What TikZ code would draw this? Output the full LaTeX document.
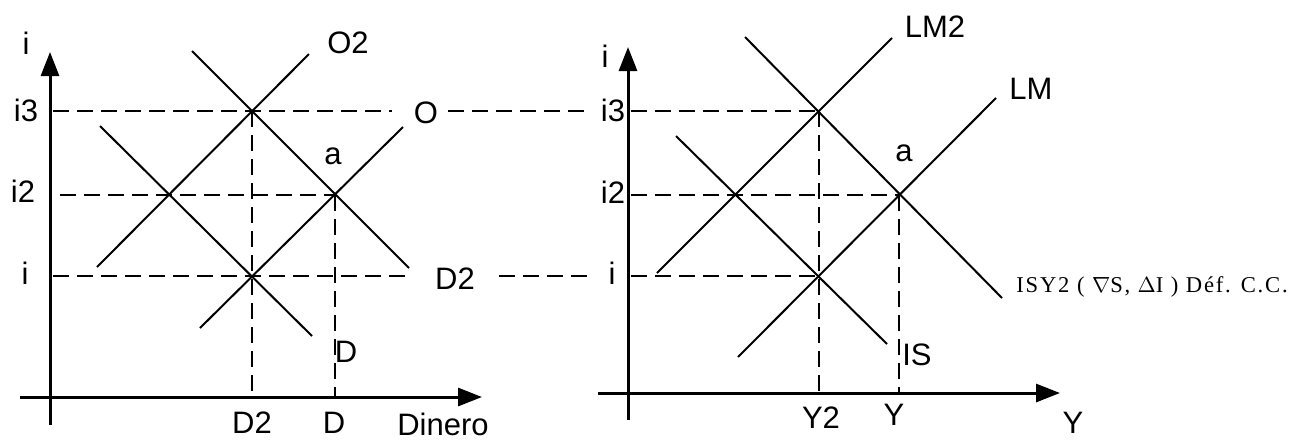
\documentclass[tikz,border=0pt]{standalone}
\usepackage{fontspec}
\setmainfont{Liberation Sans}
\newfontfamily\notefont{Liberation Serif}[LetterSpace=8]
\usetikzlibrary{arrows.meta,positioning}
\begin{document}
\begin{tikzpicture}[x=0.5pt, y=-0.5pt,
    axis/.style={line width=1.5pt, -{Triangle[length=12pt, width=9pt]}},
    curve/.style={line width=1pt},
    guide/.style={line width=0.7pt, dash pattern=on 8pt off 4pt},
    lbl/.style={inner sep=0pt, font=\fontsize{15.5}{18}\selectfont},
    note/.style={inner sep=0pt, anchor=west, font=\notefont\fontsize{11.3}{13}\selectfont}
  ]
    \useasboundingbox (0,0) rectangle (1304,441);
    % money market
    \coordinate (mx0) at (20,397);  \coordinate (mx1) at (482,397);
    \coordinate (my0) at (50,425);  \coordinate (my1) at (50,52);
    \draw[axis] (mx0) -- (mx1);
    \draw[axis] (my0) -- (my1);
    \coordinate (m3) at (252,111);  \coordinate (mb) at (169,195);
    \coordinate (ma) at (335,195);  \coordinate (m1) at (252,276);
    \coordinate (o2s) at (97,267);  \coordinate (o2e) at (309,54);
    \coordinate (d2s) at (192,51);  \coordinate (d2e) at (409,268);
    \coordinate (ds) at (100,126);  \coordinate (de) at (312,336);
    \coordinate (os) at (200,328);  \coordinate (oe) at (403,127);
    \draw[curve] (o2s) -- (o2e);
    \draw[curve] (d2s) -- (d2e);
    \draw[curve] (ds) -- (de);
    \draw[curve] (os) -- (oe);
    \node[lbl] (iL) at (26,43) {i};
    \node[lbl] (i3L) at (26,110) {i3};
    \node[lbl] (i2L) at (23,191) {i2};
    \node[lbl] (i1L) at (25,273) {i};
    \node[lbl] (o2L) at (348,43) {O2};
    \node[lbl] (oL) at (426,113) {O};
    \node[lbl] (aL) at (333,156) {a};
    \node[lbl] (d2L) at (455,279) {D2};
    \node[lbl] (dL) at (346,352) {D};
    \node[lbl] (d2B) at (252,423) {D2};
    \node[lbl] (dB) at (334,423) {D};
    \node[lbl] (dinero) at (443,424) {Dinero};
    \coordinate (mi3) at (53,111);  \coordinate (mi2) at (60,195);
    \coordinate (mi1) at (53,276);
    \coordinate (md2) at (252,397); \coordinate (md) at (335,397);
    \draw[guide, shorten >=11pt] (mi3) -- (oL.west |- mi3);
    \draw[guide] (mi2) -- (ma);
    \draw[guide, shorten >=13pt] (mi1) -- (d2L.west |- mi1);
    \draw[guide] (m3) -- (md2);
    \draw[guide] (ma) -- (md);
    % IS-LM
    \coordinate (ix0) at (598,393); \coordinate (ix1) at (1060,393);
    \coordinate (iy0) at (628,420); \coordinate (iy1) at (628,47);
    \draw[axis] (ix0) -- (ix1);
    \draw[axis] (iy0) -- (iy1);
    \coordinate (r3) at (819,111);  \coordinate (rb) at (735,195);
    \coordinate (ra) at (899,195);  \coordinate (r1) at (819,276);
    \coordinate (lm2s) at (657,273); \coordinate (lm2e) at (892,38);
    \coordinate (isy2s) at (745,37); \coordinate (isy2e) at (1002,298);
    \coordinate (iss) at (676,136);  \coordinate (ise) at (887,344);
    \coordinate (lms) at (738,357);  \coordinate (lme) at (996,98);
    \draw[curve] (lm2s) -- (lm2e);
    \draw[curve] (isy2s) -- (isy2e);
    \draw[curve] (iss) -- (ise);
    \draw[curve] (lms) -- (lme);
    \node[lbl] (iR) at (605,56) {i};
    \node[lbl] (i3R) at (613,110) {i3};
    \node[lbl] (i2R) at (613,192) {i2};
    \node[lbl] (i1R) at (612,273) {i};
    \node[lbl] (lm2L) at (935,27) {LM2};
    \node[lbl] (lmL) at (1031,89) {LM};
    \node[lbl] (aR) at (904,153) {a};
    \node[note] (isy2L) at (1016,287) {ISY2 ( $\nabla$S, $\Delta$I ) Déf. C.C.};
    \node[lbl] (isL) at (917,355) {IS};
    \node[lbl] (y2B) at (821,418) {Y2};
    \node[lbl] (yB) at (894,415) {Y};
    \node[lbl] (yAx) at (1073,423) {Y};
    \coordinate (ri3) at (631,111); \coordinate (ri2) at (631,195);
    \coordinate (ri1) at (631,276);
    \coordinate (ry2) at (819,393); \coordinate (ry) at (899,393);
    \draw[guide, shorten <=5pt, shorten >=6pt] (oL.east |- mi3) -- (i3R.west |- mi3);
    \draw[guide, shorten <=12pt, shorten >=9pt] (d2L.east |- mi1) -- (i1R.west |- mi1);
    \draw[guide] (ri3) -- (r3);
    \draw[guide] (ri2) -- (ra);
    \draw[guide] (ri1) -- (r1);
    \draw[guide] (r3) -- (ry2);
    \draw[guide] (ra) -- (ry);
  \end{tikzpicture}
\end{document}
